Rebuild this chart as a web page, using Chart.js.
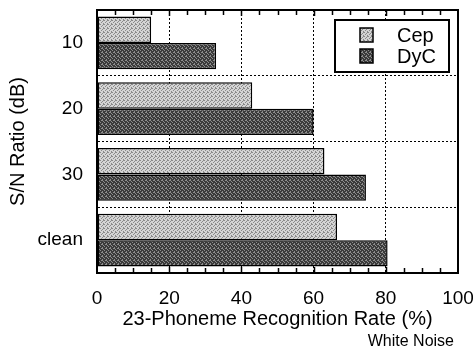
<!DOCTYPE html>
<html>
<head>
<meta charset="utf-8">
<script src="https://cdn.jsdelivr.net/npm/chart.js@4"></script>
<style>
  html, body { margin: 0; padding: 0; background: #fff; }
  #wrap { width: 473px; height: 351px; }
</style>
</head>
<body>
<div id="wrap"><canvas id="c" width="473" height="351"></canvas></div>
<script>
const categories = ['10', '20', '30', 'clean'];
const seriesNames = ['Cep', 'DyC'];
const cepValues = [15, 43, 63, 66.5];
const dycValues = [33, 60, 74.5, 80.5];
const xTicks = [0, 20, 40, 60, 80, 100];
const xTitle = '23-Phoneme Recognition Rate (%)';
const yTitle = 'S/N Ratio (dB)';
const noteText = 'White Noise';

const FONT = "'Liberation Sans', Arial, Helvetica, sans-serif";

function makePattern(light, dark, dots) {
  const p = document.createElement('canvas');
  p.width = 4; p.height = 4;
  const g = p.getContext('2d');
  g.fillStyle = light; g.fillRect(0, 0, 4, 4);
  g.fillStyle = dark;
  dots.forEach(d => g.fillRect(d[0], d[1], 1, 1));
  return g.createPattern(p, 'repeat');
}
const ctx = document.getElementById('c').getContext('2d');
const cepFill = makePattern('#d4d4d4', '#8a8a8a', [[0,0],[2,1],[1,2],[3,3],[3,0]]);
const dycFill = makePattern('#3a3a3a', '#8c8c8c', [[1,0],[3,1],[0,2],[2,3],[2,0]]);

const framePlugin = {
  id: 'frame',
  afterDatasetsDraw(chart) {
    const {ctx, chartArea: a, scales: {x}} = chart;
    ctx.save();
    ctx.strokeStyle = '#000';
    ctx.lineWidth = 2;
    ctx.strokeRect(a.left, a.top, a.right - a.left, a.bottom - a.top);
    ctx.lineWidth = 1.5;
    for (let v = 5; v < 100; v += 5) {
      const px = Math.round(x.getPixelForValue(v)) + 0.5;
      const len = v % 20 === 0 ? 6 : 5;
      ctx.beginPath();
      ctx.moveTo(px, a.top); ctx.lineTo(px, a.top + len);
      ctx.moveTo(px, a.bottom); ctx.lineTo(px, a.bottom - len);
      ctx.stroke();
    }
    ctx.restore();
  }
};

const legendBoxPlugin = {
  id: 'legendBox',
  afterDraw(chart) {
    const {ctx} = chart;
    const bx = 335, by = 20, bw = 114, bh = 52;
    ctx.save();
    ctx.fillStyle = '#fff';
    ctx.fillRect(bx, by, bw, bh);
    ctx.strokeStyle = '#000';
    ctx.lineWidth = 2;
    ctx.strokeRect(bx, by, bw, bh);
    ctx.font = '20px ' + FONT;
    ctx.textBaseline = 'middle';
    ctx.textAlign = 'left';
    chart.data.datasets.forEach((ds, i) => {
      const cy = by + 15 + i * 21;
      ctx.fillStyle = ds.backgroundColor;
      ctx.fillRect(360, cy - 7, 13, 14);
      ctx.lineWidth = 1.5;
      ctx.strokeRect(360, cy - 7, 13, 14);
      ctx.fillStyle = '#000';
      ctx.fillText(ds.label, 397, cy + 1);
    });
    // note below axis title
    ctx.font = '16px ' + FONT;
    ctx.textAlign = 'right';
    ctx.fillText(noteText, 454, 342);
    ctx.restore();
  }
};

new Chart(ctx, {
  type: 'bar',
  data: {
    labels: categories,
    datasets: [
      { label: seriesNames[0], data: cepValues, backgroundColor: cepFill, borderColor: '#000', borderWidth: 1.5, borderSkipped: false },
      { label: seriesNames[1], data: dycValues, backgroundColor: dycFill, borderColor: '#000', borderWidth: 1.5, borderSkipped: false }
    ]
  },
  plugins: [framePlugin, legendBoxPlugin],
  options: {
    indexAxis: 'y',
    responsive: false,
    animation: false,
    devicePixelRatio: 1,
    datasets: { bar: { categoryPercentage: 0.8, barPercentage: 1.0 } },
    layout: { padding: { top: 10, right: 15, left: 0, bottom: 20 } },
    plugins: {
      legend: { display: false },
      tooltip: { enabled: false }
    },
    scales: {
      x: {
        type: 'linear',
        min: 0, max: 100,
        afterBuildTicks: s => { s.ticks = xTicks.map(v => ({ value: v })); },
        afterFit: s => { s.height = 58; s.paddingLeft = 0; s.paddingRight = 0; },
        ticks: { color: '#000', font: { family: FONT, size: 19 }, padding: 14, maxRotation: 0 },
        grid: { color: '#000', lineWidth: 1, drawTicks: false },
        border: { display: true, color: '#000', width: 2, dash: [2, 2] },
        title: { display: true, text: xTitle, color: '#000', font: { family: FONT, size: 20 }, padding: { top: 0, bottom: 0 } }
      },
      y: {
        type: 'category',
        afterFit: s => { s.width = 97; s.paddingTop = 0; s.paddingBottom = 0; },
        ticks: { color: '#000', font: { family: FONT, size: 19 }, padding: 14 },
        grid: { color: '#000', lineWidth: 1, drawTicks: false, offset: true },
        border: { display: true, color: '#000', width: 2, dash: [2, 2] },
        title: { display: true, text: yTitle, color: '#000', font: { family: FONT, size: 20 }, padding: { top: 6, bottom: 0 } }
      }
    }
  }
});
</script>
</body>
</html>
